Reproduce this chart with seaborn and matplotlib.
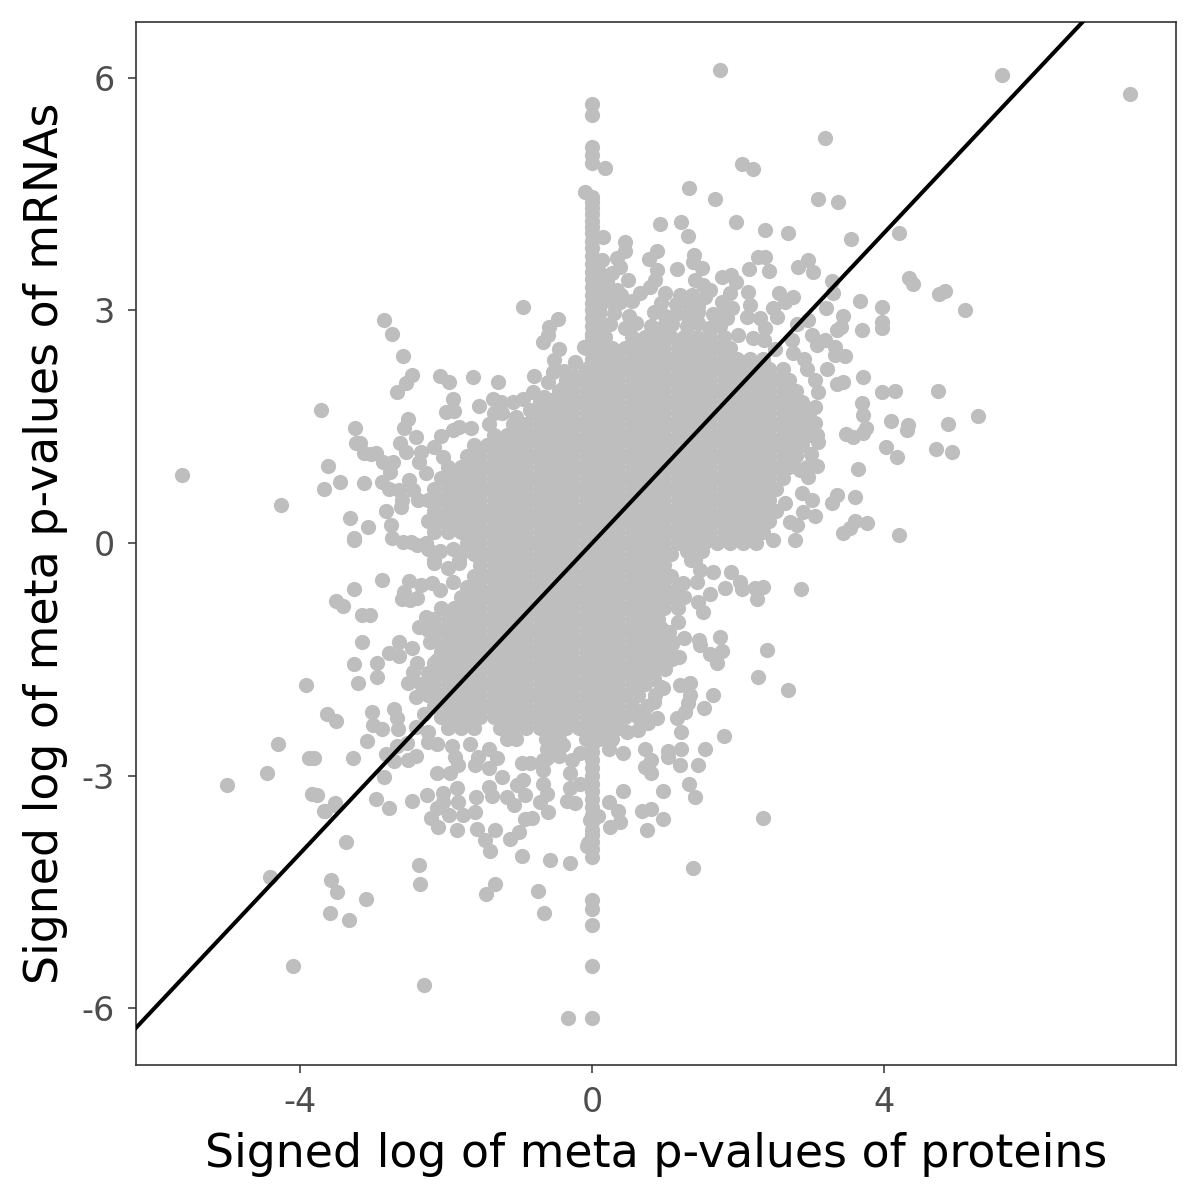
import matplotlib
matplotlib.use("Agg")
import matplotlib.pyplot as plt
import seaborn as sns
import pandas as pd

X_LABEL = "Signed log of meta p-values of proteins"
Y_LABEL = "Signed log of meta p-values of mRNAs"
x_ticks = [-4, 0, 4]
y_ticks = [-6, -3, 0, 3, 6]
line_x = [-7, 9]
line_y = [-7, 9]

core_levels = [2.66,2.52,2.38,2.24,2.10,1.96,1.82,1.68,1.54,1.40,1.26,1.12,.98,.84,.70,.56,.42,.28,.14,0,
               -.14,-.28,-.42,-.56,-.70,-.84,-.98,-1.12,-1.26,-1.40,-1.54,-1.68,-1.82,-1.96,-2.10,-2.24,-2.38,-2.52]
core_rows = [
 [0,.18,.54,.72,.9,1.08,1.26,1.44,1.62],
 [-.09,.09,.27,.45,.63,.81,.99,1.17,1.35,1.53,1.71,1.89],
 [0,.18,.36,.54,.72,.9,1.08,1.26,1.44,1.62,1.8,1.98,2.16,2.34],
 [-.09,.09,.27,.45,.63,.81,.99,1.17,1.35,1.53,1.71,1.89,2.07,2.25,2.43,2.61],
 [-.36,-.18,0,.18,.36,.54,.72,.9,1.08,1.26,1.44,1.62,1.8,1.98,2.16,2.34,2.52,2.7],
 [-.45,-.27,-.09,.09,.27,.45,.63,.81,.99,1.17,1.35,1.53,1.71,1.89,2.07,2.25,2.43,2.61,2.79],
 [-.72,-.54,-.36,-.18,0,.18,.36,.54,.72,.9,1.08,1.26,1.44,1.62,1.8,1.98,2.16,2.34,2.52,2.7,2.88],
 [-.81,-.63,-.45,-.27,-.09,.09,.27,.45,.63,.81,.99,1.17,1.35,1.53,1.71,1.89,2.07,2.25,2.43,2.61,2.79,2.97],
 [-1.08,-.9,-.72,-.54,-.36,-.18,0,.18,.36,.54,.72,.9,1.08,1.26,1.44,1.62,1.8,1.98,2.16,2.34,2.52,2.7,2.88],
 [-1.35,-1.17,-.99,-.81,-.63,-.45,-.27,-.09,.09,.27,.45,.63,.81,.99,1.17,1.35,1.53,1.71,1.89,2.07,2.25,2.43,2.61,2.79,2.97],
 [-1.62,-1.44,-1.26,-1.08,-.9,-.72,-.54,-.36,-.18,0,.18,.36,.54,.72,.9,1.08,1.26,1.44,1.62,1.8,1.98,2.16,2.34,2.52,2.7,2.88],
 [-1.71,-1.53,-1.35,-1.17,-.99,-.81,-.63,-.45,-.27,-.09,.09,.27,.45,.63,.81,.99,1.17,1.35,1.53,1.71,1.89,2.07,2.25,2.43,2.61,2.79],
 [-1.98,-1.8,-1.62,-1.44,-1.26,-1.08,-.9,-.72,-.54,-.36,-.18,0,.18,.36,.54,.72,.9,1.08,1.26,1.44,1.62,1.8,1.98,2.16,2.34,2.52,2.7],
 [-2.07,-1.89,-1.71,-1.53,-1.35,-1.17,-.99,-.81,-.63,-.45,-.27,-.09,.09,.27,.45,.63,.81,.99,1.17,1.35,1.53,1.71,1.89,2.07,2.25,2.43,2.61],
 [-2.16,-1.98,-1.8,-1.62,-1.44,-1.26,-1.08,-.9,-.72,-.54,-.36,-.18,0,.18,.36,.54,.72,.9,1.08,1.26,1.44,1.62,1.8,1.98,2.16,2.34,2.52],
 [-2.25,-2.07,-1.89,-1.71,-1.53,-1.35,-1.17,-.99,-.81,-.63,-.45,-.27,-.09,.09,.27,.45,.63,.81,.99,1.17,1.35,1.53,1.71,1.89,2.07,2.25,2.43],
 [-2.16,-1.98,-1.8,-1.62,-1.44,-1.26,-1.08,-.9,-.72,-.54,-.36,-.18,0,.18,.36,.54,.72,.9,1.08,1.26,1.44,1.62,1.8,1.98,2.16,2.34,2.52],
 [-2.25,-2.07,-1.89,-1.71,-1.53,-1.35,-1.17,-.99,-.81,-.63,-.45,-.27,-.09,.09,.27,.45,.63,.81,.99,1.17,1.35,1.53,1.71,1.89,2.07,2.25,2.43],
 [-2.16,-1.98,-1.8,-1.62,-1.44,-1.26,-1.08,-.9,-.72,-.54,-.36,-.18,0,.18,.36,.54,.72,.9,1.08,1.26,1.44,1.62,1.8,1.98,2.16,2.34],
 [-1.71,-1.53,-1.35,-1.17,-.99,-.81,-.63,-.45,-.27,-.09,.09,.27,.45,.63,.81,.99,1.17,1.35,1.53,1.71,1.89,2.07,2.25],
 [-1.62,-1.44,-1.26,-1.08,-.9,-.72,-.54,-.36,-.18,0,.18,.36,.54,.72,.9,1.08],
 [-1.53,-1.35,-1.17,-.99,-.81,-.63,-.45,-.27,-.09,.09,.27,.45,.63,.81,.99],
 [-1.62,-1.44,-1.26,-1.08,-.9,-.72,-.54,-.36,-.18,0,.18,.36,.54,.72,.9,1.08],
 [-1.71,-1.53,-1.35,-1.17,-.99,-.81,-.63,-.45,-.27,-.09,.09,.27,.45,.63,.81,.99,1.17],
 [-1.8,-1.62,-1.44,-1.26,-1.08,-.9,-.72,-.54,-.36,-.18,0,.18,.36,.54,.72,.9,1.08,1.26],
 [-2.07,-1.89,-1.71,-1.53,-1.35,-1.17,-.99,-.81,-.63,-.45,-.27,-.09,.09,.27,.45,.63,.81,.99,1.17],
 [-2.16,-1.98,-1.8,-1.62,-1.44,-1.26,-1.08,-.9,-.72,-.54,-.36,-.18,0,.18,.36,.54,.72,.9],
 [-2.25,-2.07,-1.89,-1.71,-1.53,-1.35,-1.17,-.99,-.81,-.63,-.45,-.27,-.09,.09,.27,.45,.63,.81],
 [-2.16,-1.98,-1.8,-1.62,-1.44,-1.26,-1.08,-.9,-.72,-.54,-.36,-.18,0,.18,.36,.54,.72,.9,1.08],
 [-2.07,-1.89,-1.71,-1.53,-1.35,-1.17,-.99,-.81,-.63,-.45,-.27,-.09,.09,.27,.45,.63,.81,.99],
 [-2.16,-1.98,-1.8,-1.62,-1.44,-1.26,-1.08,-.9,-.72,-.54,-.36,-.18,0,.18,.36,.54,.72,.9],
 [-2.25,-2.07,-1.89,-1.71,-1.53,-1.35,-1.17,-.99,-.81,-.63,-.45,-.27,-.09,.09,.27,.45,.63,.81],
 [-2.34,-2.16,-1.98,-1.8,-1.62,-1.44,-1.26,-1.08,-.9,-.72,-.54,-.36,-.18,0,.18,.36,.54,.72],
 [-2.25,-2.07,-1.89,-1.71,-1.53,-1.35,-1.17,-.99,-.81,-.63,-.45,-.27,-.09,.09,.27,.45,.63],
 [-2.16,-1.98,-1.8,-1.62,-1.44,-1.26,-1.08,-.9,-.72,-.54,-.36,-.18,0,.18,.36,.54],
 [-2.07,-1.89,-1.71,-1.53,-1.35,-1.17,-.99,-.81,-.63,-.45,-.27,-.09,.09,.27,.45,.63],
 [-1.98,-1.8,-1.62,-1.26,-1.08,-.9,-.72,-.54,-.36,-.18,0,.18,.36],
 [-1.17,-1.05,-.63,-.45,-.09,.09,.27],
]

stem_top_y = [2.7,2.8,2.9,3.0,3.1,3.2,3.3,3.4,3.5,3.6,3.7,3.8,3.9,4.0,4.08,4.16,4.24,4.32,4.4,4.46,4.9,5.0,5.11,5.52,5.66]
stem_bottom_y = [-2.6,-2.7,-2.8,-2.9,-3.0,-3.1,-3.2,-3.3,-3.4,-3.5,-3.6,-3.7,-3.77,-3.85,-3.95,-4.05,-4.6,-4.72,-4.92,-5.45,-6.13]

upper_right = [(1.75,6.10),(5.62,6.04),(7.37,5.79),(3.19,5.23),(.18,4.84),(2.05,4.89),(2.2,4.83),(1.33,4.58),(1.68,4.44),
 (3.1,4.44),(3.37,4.40),(-.1,4.53),(3.55,3.92),(4.2,4.0),(.93,4.12),(1.22,4.14),(1.97,4.14),(2.37,4.04),(2.68,4.0),(1.32,3.96),
 (4.34,3.42),(4.4,3.34),(4.75,3.21),(4.84,3.25),(5.11,3.0),(3.97,3.05),(3.97,2.85),(3.97,2.77),(3.41,2.79),(3.67,3.12),(3.70,2.75),
 (3.44,2.93),(3.36,2.75),(3.21,3.03),(3.3,3.23),(3.28,3.38),(3.03,3.5),(2.96,3.65),(2.82,3.56),(2.43,3.51),(2.37,3.69),(2.27,3.69),(2.15,3.53),
 (.45,3.88),(.45,3.77),(.34,3.68),(.38,3.56),(.27,3.48),(.15,3.95),(.14,3.65),(.89,3.77),(.78,3.66),(.89,3.52),(.86,3.39),(.79,3.3),(.66,3.22),
 (.55,3.12),(.38,3.11),(.34,3.26),(.49,3.39),(1.16,3.53),(1.4,3.72),(1.38,3.63),(1.51,3.55),(1.41,3.39),(1.52,3.33),(1.62,3.26),(1.37,3.2),(1.55,3.17),
 (1.78,3.43),(1.9,3.46),(1.97,3.37),(1.89,3.22),(1.78,3.11),(1.92,3.03),(1.85,2.9),(2.14,3.24),(2.16,3.07),(2.12,2.92),(2.3,2.9),(2.37,2.77),
 (2.56,3.23),(2.75,3.17),(2.64,3.11),(2.48,3.03),(2.53,2.92),(2.81,2.83),(2.96,2.88),(2.74,2.62),(3.01,2.68),(3.08,2.55),(3.19,2.62),(3.33,2.53),
 (3.33,2.43),(3.47,2.41),(3.22,2.25),(3.36,2.05),(3.44,2.08),(3.71,2.14),(3.97,1.95),(4.15,1.96),(4.74,1.96),(3.7,1.81),(3.71,1.65),(3.75,1.48),
 (3.71,1.42),(3.48,1.41),(3.58,1.37),(3.08,1.39),(4.1,1.57),(4.33,1.52),(4.32,1.46),(4.88,1.54),(5.29,1.64),(4.03,1.24),(4.18,1.11),(4.71,1.21),(4.93,1.17),
 (3.64,.95),(3.08,1.0),(2.96,.85),(2.85,.94),(3.6,.59),(3.36,.62),(3.29,.52),(2.88,.65),(3.01,.55),(2.89,.4),(3.05,.35),(2.64,.52),(2.71,.27),(2.81,.23),
 (3.6,.28),(3.77,.26),(3.53,.19),(3.44,.13),(4.21,.1),(2.48,.04),(2.78,.04)]

upper_band = [(.1,2.8),(.25,2.82),(.45,2.78),(.6,2.84),(.8,2.8),(.95,2.78),(1.1,2.82),(1.3,2.8),(1.45,2.84),(1.6,2.78),(1.75,2.8),
 (.1,2.95),(.3,2.97),(.5,2.93),(.85,2.98),(1.0,2.93),(1.15,2.96),(1.3,2.94),(1.45,2.98),(1.65,2.95),(1.8,2.97),
 (.12,3.1),(.25,3.12),(.95,3.1),(1.15,3.08),(1.3,3.1),(1.45,3.06),(.1,3.2),(.2,3.22),(.4,3.2),(1.0,3.22),(1.2,3.2),(.12,3.35),(.2,3.38),
 (.1,2.75),(.1,3.0),(.12,3.25),(.1,3.5),(1.8,2.66),(2.0,2.68),(2.2,2.64),(2.35,2.62),(2.5,2.5),(2.75,2.45),(2.9,2.38),(2.95,2.25),(3.05,2.1),
 (3.1,1.95),(3.05,1.75),(3.05,1.55),(3.1,1.3),(3.0,1.15),(2.95,.98)]

lower_right = [(2.86,-.59),(1.66,-.37),(1.9,-.37),(2.03,-.5),(1.82,-.58),(1.62,-.65),(2.05,-.59),(2.23,-.58),(2.34,-.57),(2.26,-.72),(1.52,-.89),
 (1.45,-.76),(1.23,-.7),(1.18,-1.02),(1.26,-1.23),(1.47,-1.25),(1.48,-1.32),(1.75,-1.21),(1.78,-1.39),(1.62,-1.43),(1.71,-1.55),(2.4,-1.38),
 (2.27,-1.73),(2.68,-1.9),(1.66,-1.96),(1.53,-2.12),(1.34,-1.81),(1.2,-1.83),(1.34,-1.96),(1.32,-2.06),(1.27,-2.18),(1.16,-2.25),(1.22,-2.43),
 (1.81,-2.49),(1.22,-2.65),(1.55,-2.66),(1.04,-2.68),(1.04,-2.76),(1.2,-2.86),(1.45,-2.86),(1.33,-3.1),(1.41,-3.28),(2.34,-3.55),(1.38,-4.19),
 (.97,-1.87),(.86,-1.96),(1.19,-1.47),(.89,-2.26),(.77,-2.32),(.63,-2.41),(.48,-2.44),(.73,-2.66),(.81,-2.8),(.73,-2.89),(.81,-2.97),(.42,-2.71),
 (.23,-2.65),(.42,-3.2),(.97,-3.2),(.23,-3.34),(.36,-3.46),(.38,-3.59),(.25,-3.66),(.68,-3.45),(.81,-3.43),(.97,-3.56),(.75,-3.7),
 (-.03,-3.57),(.08,-3.52),(-.05,-3.87),(.95,-1.1),(1.05,-1.15),(1.1,-1.3),(1.0,-1.45),(1.1,-1.5),(.9,-1.6),(1.0,-1.62),(.85,-1.75),(.95,-1.85),
 (.75,-2.1),(.85,-2.05),(.7,-2.2),(1.3,-.1),(1.4,-.05),(1.5,-.1),(1.35,-.22),(1.41,-.22),(1.48,-.35),(1.44,-.5),(1.25,-.52)]

lower_left = [(-.33,-6.13),(-.3,-4.12),(-.58,-4.09),(-.74,-4.48),(-.66,-4.77),(-.96,-4.04),(-1.33,-4.39),(-1.45,-4.53),(-2.37,-4.15),(-2.36,-4.4),
 (-2.3,-5.7),(-4.1,-5.45),(-4.42,-4.3),(-3.58,-4.34),(-3.49,-4.5),(-3.59,-4.77),(-3.33,-4.86),(-3.1,-4.59),(-3.37,-3.86),(-5,-3.12),(-4.45,-2.97),
 (-4.3,-2.59),(-3.88,-2.77),(-3.81,-2.77),(-3.84,-3.23),(-3.77,-3.25),(-3.66,-3.45),(-3.52,-3.35),(-3.26,.04),(-2.88,-.48),(-3.26,-.59),(-3.51,-.75),
 (-3.42,-.81),(-3.15,-.93),(-3.04,-.93),(-3.16,-1.28),(-3.26,-1.56),(-3.21,-1.81),(-2.95,-1.55),(-2.95,-1.73),(-3.92,-1.83),(-3.63,-2.21),(-3.51,-2.3),
 (-3.01,-2.18),(-3.0,-2.35),(-2.88,-2.4),(-2.71,-2.14),(-2.68,-2.25),(-2.66,-2.4),(-3.08,-2.55),(-3.27,-2.77),(-2.85,-3.02),(-2.96,-3.3),(-2.79,-3.41),
 (-2.47,-3.32),(-2.26,-3.25),(-2.05,-3.22),(-2.04,-3.34),(-2.12,-3.42),(-2.21,-3.55),(-2.11,-3.66),(-1.96,-3.51),(-1.85,-3.7),(-1.77,-3.51),(-1.6,-3.47),
 (-1.58,-3.69),(-1.33,-3.7),(-1.47,-3.83),(-1.4,-3.97),(-1.12,-3.81),(-1.0,-3.73),(-1.84,-3.34),(-1.59,-3.28),(-1.85,-3.16),(-1.95,-2.97),(-2.12,-2.97),
 (-1.84,-2.86),(-1.88,-2.76),(-1.92,-2.62),(-1.67,-2.59),(-1.6,-2.86),(-1.56,-2.76),(-1.41,-2.65),(-1.3,-2.77),(-1.42,-2.9),(-1.23,-3.02),(-1.41,-3.15),
 (-1.37,-3.26),(-1.16,-3.28),(-1.07,-3.38),(-.92,-3.25),(-.95,-3.05),(-1.03,-3.12),(-.67,-3.1),(-.62,-3.23),(-.71,-3.34),(-.6,-3.47),(-.82,-3.54),(-.92,-3.56),
 (-.68,-2.93),(-.62,-2.77),(-.96,-2.84),(-.85,-2.84),(-.3,-2.97),(-.3,-3.16),(-.34,-3.32),(-.23,-3.35),(-.16,-3.1),(-.27,-2.8),(-.16,-2.71),(-.07,-3.9),
 (-3.52,-3.38),(-3.67,-3.46),(-2.64,-1.28),(-2.79,-1.42),(-2.64,-1.45),(-2.47,-1.35),(-2.4,-1.55),(-2.45,-1.66),(-2.52,-1.81),(-2.41,-1.99),(-2.3,-2.21),
 (-2.41,-2.37),(-2.67,-2.62),(-2.53,-2.58),(-2.82,-2.72),(-2.71,-2.81),(-2.52,-2.8),(-2.41,-2.75),(-2.25,-2.44),(-2.25,-2.57),(-2.12,-2.59),
 (-2.16,-.26),(-1.97,-.32),(-1.82,-.26),(-2.51,-.49),(-2.58,-.63),(-2.6,-.72),(-2.49,-.74),(-2.4,-.71),(-2.34,-.54),(-2.19,-.52),(-2.08,-.61),(-1.9,-.5),
 (-2.27,-.95),(-2.37,-1.08),(-2.22,-1.28),(-1.99,-1.34),(-2.12,-1.51),(-2.18,-1.15),(-.62,-2.65),(-.55,-2.6),(-.45,-2.75),(-.68,-2.8),(-.4,-2.6),
 (-2.4,-.03),(-2.25,-.08),(-2.08,-.1),(-1.9,-.08),(-1.78,-.12),(-2.16,-.22),(-1.82,-.22)]

upper_left = [(-5.62,.88),(-4.26,.49),(-3.71,1.72),(-2.85,2.88),(-2.74,2.7),(-2.59,2.41),(-2.47,2.17),(-2.55,2.06),(-2.68,1.95),(-2.08,2.15),(-1.96,2.08),
 (-1.63,2.14),(-1.29,2.08),(-.95,3.05),(-.47,2.89),(-.59,2.79),(-.6,2.68),(-.67,2.59),(-.11,2.53),(-.52,2.36),(-.53,2.21),(-.79,2.15),(-.6,2.08),(-.23,2.34),
 (-.81,1.95),(-1.9,1.86),(-1.89,1.7),(-2.0,1.69),(-1.55,1.77),(-1.36,1.86),(-1.25,1.82),(-1.08,1.82),(-.95,1.86),(-.66,1.88),(-1.34,1.68),(-1.23,1.68),
 (-1.41,1.54),(-1.04,1.63),(-2.52,1.6),(-2.58,1.48),(-2.41,1.37),(-3.25,1.48),(-3.18,1.29),(-3.23,1.29),(-3.12,1.16),(-2.96,1.16),(-3.03,1.15),(-2.86,1.05),
 (-2.73,1.05),(-2.63,1.29),(-2.55,1.17),(-2.34,1.17),(-2.16,1.24),(-2.07,1.38),(-1.9,1.46),(-1.82,1.5),(-1.66,1.48),(-2.77,.92),(-2.88,.79),(-2.79,.7),
 (-2.64,.68),(-2.51,.81),(-2.45,.68),(-2.6,.55),(-2.38,.55),(-2.62,.46),(-2.82,.41),(-2.75,.23),(-2.74,.06),(-2.59,.01),(-2.48,.01),(-2.27,.0),(-3.62,.99),
 (-3.45,.79),(-3.12,.77),(-3.68,.7),(-3.32,.32),(-3.07,.21),(-3.26,.06),(-2.37,1.05),(-2.27,.9),(-2.04,1.11),
 (-1.0,1.5),(-.85,1.72),(-.7,1.65),(-.55,1.85),(-.4,2.0),(-.25,2.15),(-.38,2.22),(-.45,2.5)]

xs, ys = [], []
for level, row in zip(core_levels, core_rows):
    xs += row
    ys += [level] * len(row)
for group in (upper_right, upper_band, lower_right, lower_left, upper_left):
    xs += [p[0] for p in group]
    ys += [p[1] for p in group]
for v in stem_top_y + stem_bottom_y:
    xs.append(0)
    ys.append(v)
df = pd.DataFrame({"protein": xs, "mrna": ys})

sns.set_theme(style="white")
plt.rcParams["font.family"] = ["DejaVu Sans"]
plt.rcParams["axes.unicode_minus"] = False
fig = plt.figure(figsize=(6, 6), dpi=200)
ax = fig.add_axes([136/1200, 135/1200, 1040/1200, 1043/1200])
sns.scatterplot(data=df, x="protein", y="mrna", ax=ax, color="#BEBEBE", s=30, linewidth=0, alpha=1, zorder=2)
sns.lineplot(x=line_x, y=line_y, ax=ax, color="black", linewidth=1.45, zorder=3, errorbar=None)
ax.set_xlim(-6.25, 8.0)
ax.set_ylim(-6.73, 6.72)
ax.set_xticks(x_ticks)
ax.set_yticks(y_ticks)
ax.tick_params(axis="both", length=2.8, width=0.55, color="#333333", labelcolor="#4D4D4D", labelsize=12, pad=4.8, bottom=True, left=True)
ax.set_xlabel(X_LABEL, fontsize=16.5, color="black", labelpad=4.5)
ax.set_ylabel(Y_LABEL, fontsize=16.5, color="black", labelpad=5)
for spine in ax.spines.values():
    spine.set_color("#333333")
    spine.set_linewidth(0.6)
fig.savefig("out.png", dpi=200)
